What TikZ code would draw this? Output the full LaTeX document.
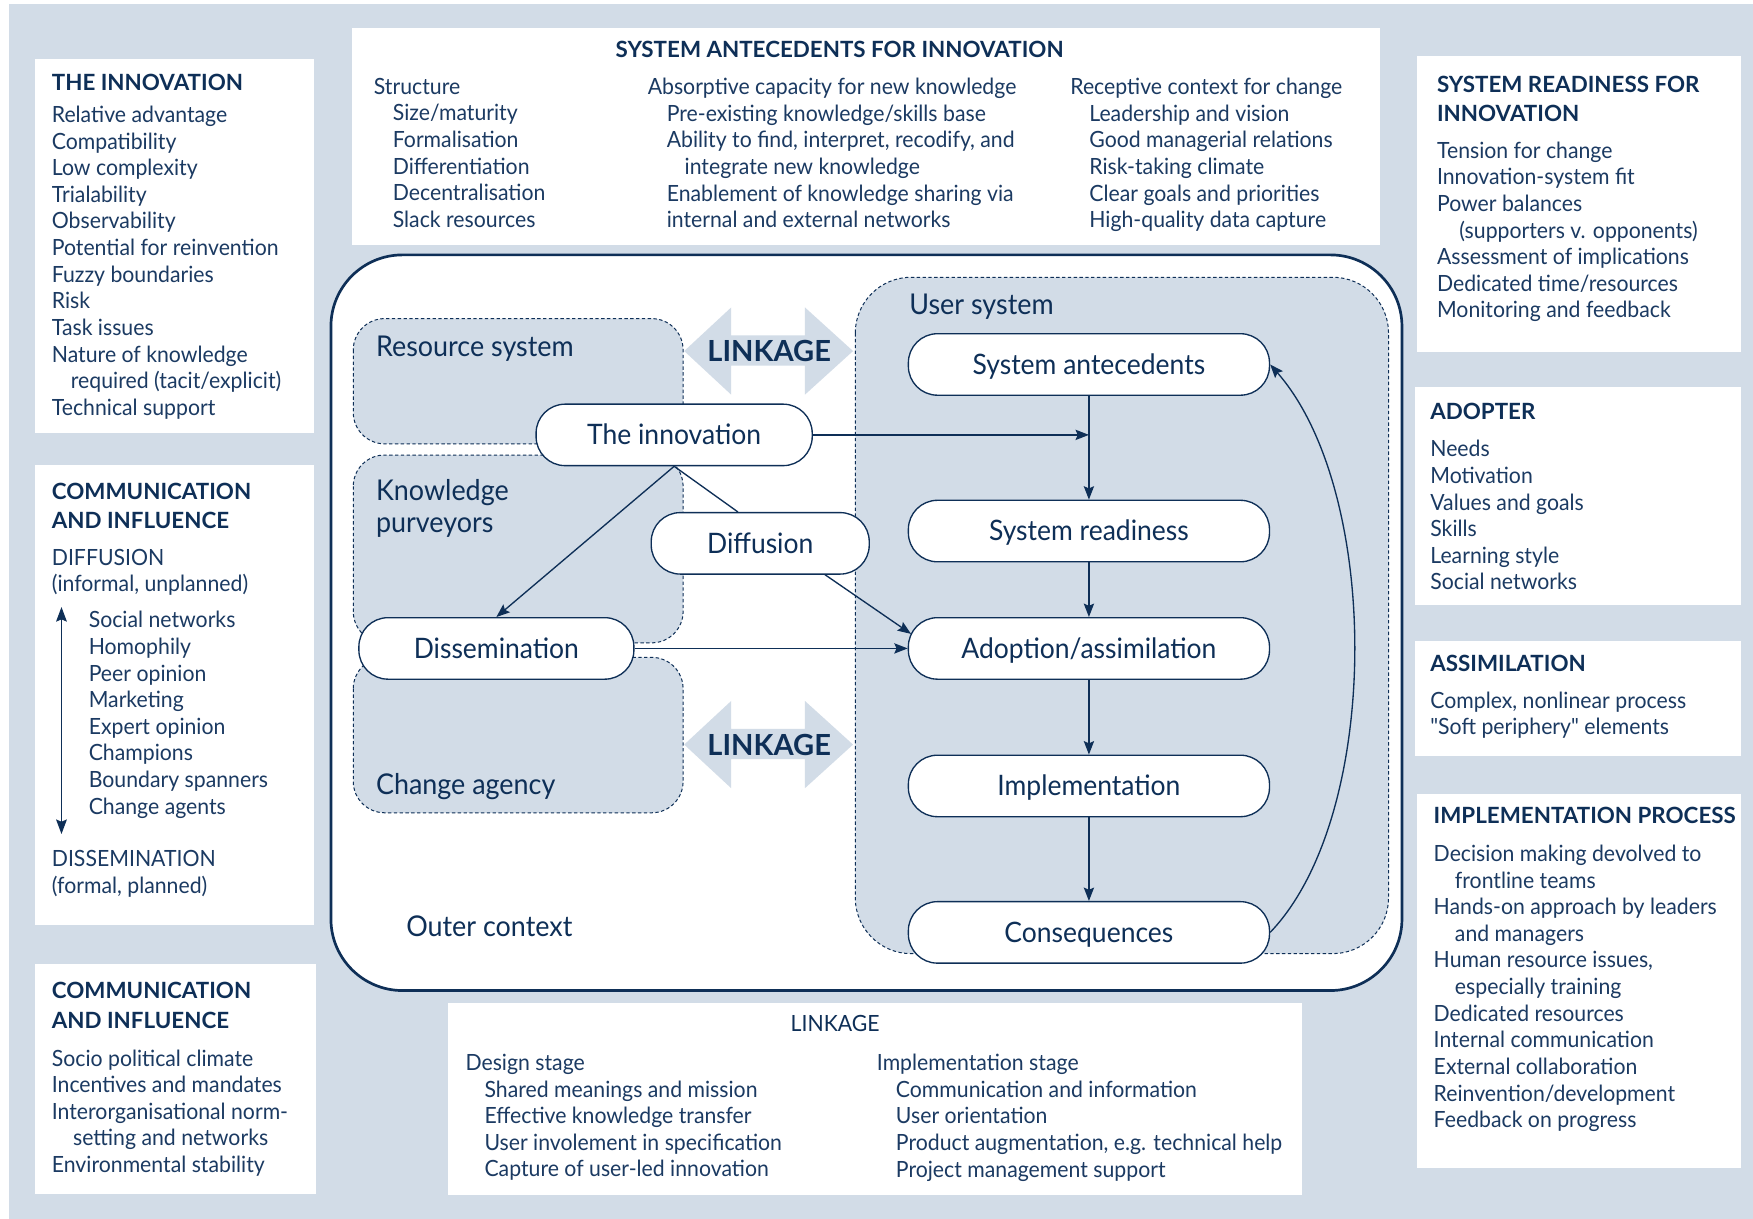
\documentclass[tikz,border=0pt]{standalone}
\usepackage{fontspec}
\setmainfont{Lato}
\newfontfamily\bodyfam[FakeStretch=0.95]{Lato}
\newfontfamily\procfam[FakeStretch=0.94]{Lato}
\usetikzlibrary{arrows.meta}
\definecolor{bgc}{HTML}{D2DCE7}
\definecolor{ink}{HTML}{0E2F57}
\definecolor{txtc}{HTML}{1B3A62}
\newcommand{\bodyfont}{\bodyfam\fontsize{10}{11.9}\selectfont}
\newcommand{\headfont}{\fontsize{10}{13}\selectfont\bfseries}
\newcommand{\labfont}{\procfam\fontsize{12.8}{14.5}\selectfont}
\newcommand{\procfont}{\procfam\fontsize{12.6}{14}\selectfont}
\newcommand{\myind}{\hspace*{8.5pt}}
\tikzset{
  mytip/.tip={Stealth[length=6.5pt,width=4.8pt,inset=1pt]},
  wbox/.style={fill=white, draw=none},
  txt/.style={anchor=north west, inner sep=0pt, align=left, font=\bodyfont, text=txtc},
  head/.style={anchor=north west, inner sep=0pt, align=left, font=\headfont, text=ink},
  lab/.style={anchor=base west, inner sep=0pt, font=\labfont, text=ink},
  proc/.style={draw=ink, line width=0.6pt, fill=white, rounded corners=13pt,
    minimum height=27.5pt, minimum width=161.5pt, inner sep=0pt, font=\procfont,
    text=ink, text height=10.6pt, text depth=1.8pt},
  region/.style={draw=ink, line width=0.45pt, dash pattern=on 1.5pt off 1.1pt, fill=bgc, rounded corners=14pt},
  arr/.style={draw=ink, line width=0.6pt, -{Stealth[length=6pt,width=4.6pt,inset=1pt]}},
  conn/.style={draw=ink, line width=0.6pt},
  linkshape/.style={fill=bgc, draw=none},
  linktxt/.style={font=\fontsize{13}{14}\selectfont\bfseries, text=ink, inner sep=0pt}
}
\begin{document}
\begin{tikzpicture}[x=0.5pt, y=-0.5pt]
\useasboundingbox (0,0) rectangle (1568,1090);
\fill[bgc] (8,4) rectangle (1568,1090);

% ---------- white side boxes ----------
\fill[wbox] (31,53) rectangle (281,387);
\fill[wbox] (31,416) rectangle (281,827);
\fill[wbox] (31,862) rectangle (283,1068);
\fill[wbox] (315,25) rectangle (1234,219);
\fill[wbox] (1267,50) rectangle (1557,315);
\fill[wbox] (1266,346) rectangle (1557,541);
\fill[wbox] (1266,573) rectangle (1557,676);
\fill[wbox] (1267,710) rectangle (1557,1045);
\fill[wbox] (401,897) rectangle (1165,1069);

% THE INNOVATION
\node[head] (h1) at (46,65.5) {THE INNOVATION};
\node[txt] (t1) at (46,94.5) {Relative advantage\\Compatibility\\Low complexity\\Trialability\\Observability\\Potential for reinvention\\Fuzzy boundaries\\Risk\\Task issues\\Nature of knowledge\\\myind required (tacit/explicit)\\Technical support};

% COMMUNICATION AND INFLUENCE (1)
\node[head] (h2) at (46,431.5) {COMMUNICATION\\AND INFLUENCE};
\node[txt] (t2a) at (46,490.5) {DIFFUSION\\(informal, unplanned)};
\node[txt] (t2b) at (79,546.5) {Social networks\\Homophily\\Peer opinion\\Marketing\\Expert opinion\\Champions\\Boundary spanners\\Change agents};
\node[txt] (t2c) at (46,760.5) {DISSEMINATION\\(formal, planned)};
\coordinate (da1) at (55,543);
\coordinate (da2) at (55,746);
\draw[draw=ink, line width=0.6pt, {mytip}-{mytip}] (da1) -- (da2);

% COMMUNICATION AND INFLUENCE (2)
\node[head] (h3) at (46,878.5) {COMMUNICATION\\AND INFLUENCE};
\node[txt] (t3) at (46,938.5) {Socio political climate\\Incentives and mandates\\Interorganisational norm-\\\hspace*{9.5pt}setting and networks\\Environmental stability};

% SYSTEM ANTECEDENTS
\node[head, anchor=north] (h4) at (751,36.5) {SYSTEM ANTECEDENTS FOR INNOVATION};
\node[txt] (t4a) at (334,69.5) {Structure\\\myind Size/maturity\\\myind Formalisation\\\myind Differentiation\\\myind Decentralisation\\\myind Slack resources};
\node[txt] (t4b) at (579,69.5) {Absorptive capacity for new knowledge\\\myind Pre-existing knowledge/skills base\\\myind Ability to find, interpret, recodify, and\\\hspace*{16.5pt}integrate new knowledge\\\myind Enablement of knowledge sharing via\\\myind internal and external networks};
\node[txt] (t4c) at (957,69.5) {Receptive context for change\\\myind Leadership and vision\\\myind Good managerial relations\\\myind Risk-taking climate\\\myind Clear goals and priorities\\\myind High-quality data capture};

% SYSTEM READINESS
\node[head] (h5) at (1285,67.5) {SYSTEM READINESS FOR\\INNOVATION};
\node[txt] (t5) at (1285,126.5) {Tension for change\\Innovation-system fit\\Power balances\\\hspace*{10pt}(supporters v. opponents)\\Assessment of implications\\Dedicated time/resources\\Monitoring and feedback};

% ADOPTER
\node[head] (h6) at (1279,360.5) {ADOPTER};
\node[txt] (t6) at (1279,393.5) {Needs\\Motivation\\Values and goals\\Skills\\Learning style\\Social networks};

% ASSIMILATION
\node[head] (h7) at (1279,585.5) {ASSIMILATION};
\node[txt] (t7) at (1279,618.5) {Complex, nonlinear process\\"Soft periphery" elements};

% IMPLEMENTATION PROCESS
\node[head] (h8) at (1282,721.5) {IMPLEMENTATION PROCESS};
\node[txt] (t8) at (1282,755.5) {Decision making devolved to\\\hspace*{9.5pt}frontline teams\\Hands-on approach by leaders\\\hspace*{9.5pt}and managers\\Human resource issues,\\\hspace*{9.5pt}especially training\\Dedicated resources\\Internal communication\\External collaboration\\Reinvention/development\\Feedback on progress};

% LINKAGE bottom
\node[txt, anchor=north, text=ink] (h9) at (747,907.5) {LINKAGE};
\node[txt] (t9a) at (416,942.5) {Design stage\\\myind Shared meanings and mission\\\myind Effective knowledge transfer\\\myind User involement in specification\\\myind Capture of user-led innovation};
\node[txt] (t9b) at (784,942.5) {Implementation stage\\\myind Communication and information\\\myind User orientation\\\myind Product augmentation, e.g. technical help\\\myind Project management support};

% ---------- central diagram ----------
\draw[draw=ink, line width=1.2pt, fill=white, rounded corners=32pt] (296,228) rectangle (1254,886);

\draw[region] (316,285) rectangle (611,397);
\draw[region] (316,407) rectangle (611,575);
\draw[region] (316,588) rectangle (611,727);
\draw[region, rounded corners=25pt] (765,248) rectangle (1242,853);

% linkage double arrows
\fill[linkshape] (612,314) -- (654,275) -- (654,300) -- (720,300) -- (720,275) -- (763,314)
  -- (720,353) -- (720,327) -- (654,327) -- (654,353) -- cycle;
\fill[linkshape] (612,666) -- (654,627) -- (654,652) -- (720,652) -- (720,627) -- (763,666)
  -- (720,705) -- (720,679) -- (654,679) -- (654,705) -- cycle;
\node[linktxt] (lk1) at (688,314) {LINKAGE};
\node[linktxt] (lk2) at (688,666) {LINKAGE};

% region labels
\node[lab] (rs) at (336,319) {Resource system};
\node[lab, anchor=north west, align=left] (kp) at (336,428) {Knowledge\\purveyors};
\node[lab] (ca) at (336,711) {Change agency};
\node[lab] (us) at (813,281) {User system};
\node[lab] (oc) at (363,838) {Outer context};

% process nodes
\node[proc, minimum width=123.5pt] (inn) at (603,389) {The innovation};
\node[proc, minimum width=97.5pt] (dif) at (680,486) {Diffusion};
\node[proc, minimum width=123pt] (dis) at (444,580) {Dissemination};
\node[proc] (sa) at (974,326) {System antecedents};
\node[proc] (sr) at (974,475) {System readiness};
\node[proc] (ad) at (974,580) {Adoption/assimilation};
\node[proc] (im) at (974,703) {Implementation};
\node[proc] (co) at (974,834) {Consequences};

% connectors
\coordinate (j1) at (inn.east -| sa.south);
\draw[arr] (inn.east) -- (j1);
\draw[arr] (sa) -- (sr);
\draw[arr] (sr) -- (ad);
\draw[arr] (ad) -- (im);
\draw[arr] (im) -- (co);
\draw[arr] (inn.south) -- (dis.north);
\draw[conn] (inn.south) -- ([xshift=-10pt]dif.north);
\draw[arr] ([xshift=29pt]dif.south) -- ([xshift=1.5pt,yshift=6.5pt]ad.west);
\draw[arr] (dis.east) -- (ad.west);
\draw[arr] (co.east) .. controls (1236,730) and (1236,440) .. (sa.east);
\end{tikzpicture}
\end{document}
